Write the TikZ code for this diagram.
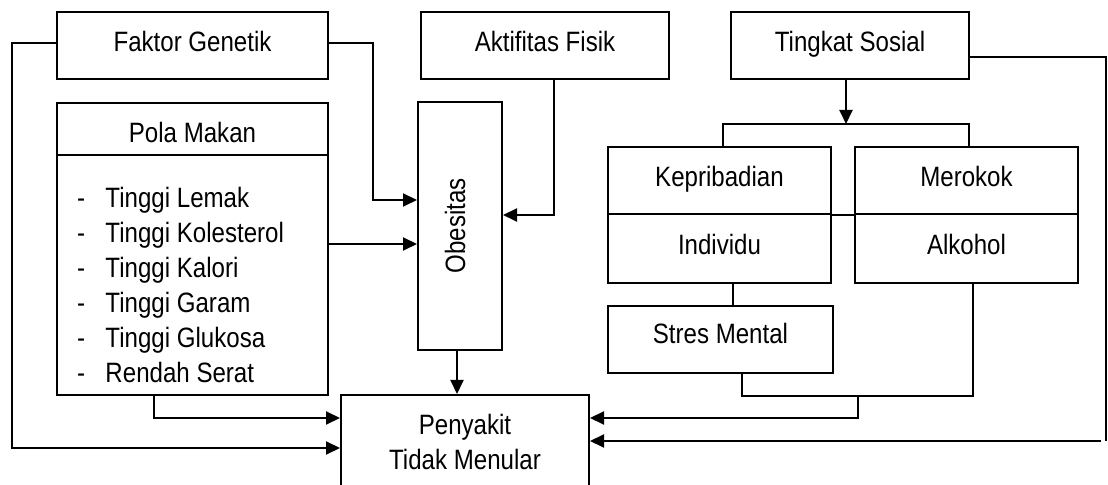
\documentclass[tikz,border=0pt]{standalone}
\usepackage{fontspec}
\setmainfont{Liberation Sans}[FakeStretch=0.86]
\usepackage{graphicx}
\usetikzlibrary{arrows.meta}
\begin{document}
\begin{tikzpicture}[x=0.5pt,y=-0.5pt,line width=1pt,
  box/.style={draw,line width=1pt,inner sep=0pt,font=\fontsize{14}{17.5}\selectfont,text height=10pt,text depth=4pt},
  plain/.style={draw,line width=1pt,inner sep=0pt},
  txt/.style={inner sep=0pt,font=\fontsize{14}{17.5}\selectfont,anchor=base west},
  arr/.style={-{Triangle[length=7pt,width=6.5pt]}}]
\useasboundingbox (0,0) rectangle (1108,485);
\clip (0,0) rectangle (1108,485);
% top row
\node[box,minimum width=135.5pt,minimum height=33.5pt] (fg) at (192.5,45.5) {Faktor Genetik};
\node[box,minimum width=124pt,minimum height=33.5pt] (af) at (545,45.5) {Aktifitas Fisik};
\node[box,minimum width=119pt,minimum height=33.5pt] (ts) at (850,45.5) {Tingkat Sosial};
% Pola Makan
\node[box,minimum width=135.5pt,minimum height=26pt,text height=13.5pt,text depth=0pt] (pmh) at (192.5,129) {Pola Makan};
\node[plain,minimum width=135.5pt,minimum height=120pt] (pmb) at (192.5,275) {};
\node[txt] (i1) at (76,208) {\makebox[14.25pt][l]{-}Tinggi Lemak};
\node[txt] (i2) at (76,243) {\makebox[14.25pt][l]{-}Tinggi Kolesterol};
\node[txt] (i3) at (76,278) {\makebox[14.25pt][l]{-}Tinggi Kalori};
\node[txt] (i4) at (76,313) {\makebox[14.25pt][l]{-}Tinggi Garam};
\node[txt] (i5) at (76,348) {\makebox[14.25pt][l]{-}Tinggi Glukosa};
\node[txt] (i6) at (76,383) {\makebox[14.25pt][l]{-}Rendah Serat};
% Obesitas
\node[plain,minimum width=42pt,minimum height=124pt,font=\fontsize{14}{17.5}\selectfont] (ob) at (460,226) {\rotatebox{90}{\rule[-5pt]{0pt}{5pt}Obesitas}};
% right group
\node[box,minimum width=111.5pt,minimum height=33.5pt] (kp) at (719.5,180.5) {Kepribadian};
\node[box,minimum width=111.5pt,minimum height=34.5pt] (in) at (719.5,248.5) {Individu};
\node[box,minimum width=111.5pt,minimum height=33.5pt] (mr) at (966.5,180.5) {Merokok};
\node[box,minimum width=111.5pt,minimum height=34.5pt] (al) at (966.5,248.5) {Alkohol};
\node[box,minimum width=112.5pt,minimum height=33.5pt,text depth=6pt] (sm) at (720.5,339.5) {Stres Mental};
% Penyakit
\node[plain,minimum width=124pt,minimum height=46.5pt,align=center,font=\fontsize{14}{17.5}\selectfont] (pt) at (465,441.5) {Penyakit\\Tidak Menular};
% connectors
\draw[arr] (fg.west |- 0,43) -- (12,43) |- (pt.west |- 0,448);
\draw[arr] (fg.east |- 0,43) -- (373,43) |- (ob.west |- 0,200);
\draw[arr] (pmb.east |- 0,244) -- (ob.west |- 0,244);
\draw[arr] (pmb.south -| 154,0) |- (pt.west |- 0,418);
\draw[arr] (af.south -| 554,0) |- (ob.east |- 0,215);
\draw[arr] (ob.south -| 457,0) -- (pt.north -| 457,0);
\coordinate (split) at (846,124);
\draw[arr] (ts.south -| split) -- (split);
\draw (kp.north -| 723,0) |- (split) -| (mr.north -| 969,0);
\draw (kp.south east) -- (mr.south west);
\coordinate (rc) at (1106,441);
\coordinate (rc2) at (1101,441);
\draw (ts.east |- 0,57) -| (rc);
\draw[arr] (rc2) -- (pt.east |- rc2);
\draw (in.south -| 733,0) -- (sm.north -| 733,0);
\coordinate (mj) at (858,396);
\draw (sm.south -| 742,0) |- (mj) -| (al.south -| 973,0);
\draw[arr] (mj) |- (pt.east |- 0,418);
\end{tikzpicture}
\end{document}
